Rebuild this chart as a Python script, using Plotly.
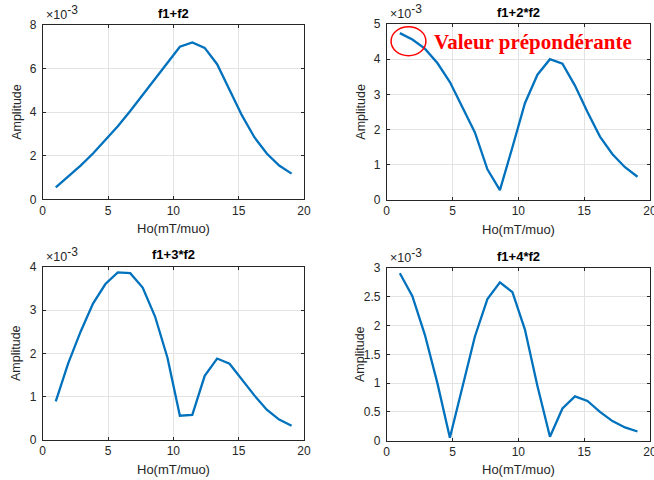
import plotly.graph_objects as go

# Field values Ho (mT/muo)
ho = [1.0, 1.95, 2.9, 3.85, 4.8, 5.75, 6.7, 7.65, 8.6, 9.55,
      10.5, 11.45, 12.4, 13.35, 14.3, 15.25, 16.2, 17.15, 18.1, 19.05]

# Amplitudes in units of 1e-3
amp_f1_f2 = [0.55, 1.05, 1.55, 2.1, 2.7, 3.35, 4.05, 4.8, 5.55, 6.3,
             7.0, 7.2, 6.95, 6.2, 5.0, 3.85, 2.85, 2.1, 1.55, 1.18]
amp_f1_2f2 = [4.74, 4.56, 4.3, 3.89, 3.35, 2.65, 1.92, 0.87, 0.28, 1.5,
              2.75, 3.56, 4.0, 3.87, 3.25, 2.5, 1.8, 1.3, 0.93, 0.66]
amp_f1_3f2 = [0.89, 1.77, 2.5, 3.15, 3.6, 3.87, 3.85, 3.52, 2.85, 1.9,
              0.56, 0.58, 1.48, 1.88, 1.76, 1.39, 1.03, 0.70, 0.47, 0.33]
amp_f1_4f2 = [2.91, 2.51, 1.84, 1.0, 0.05, 0.95, 1.81, 2.46, 2.75, 2.58,
              1.93, 0.95, 0.07, 0.56, 0.77, 0.69, 0.5, 0.34, 0.23, 0.16]

titles = ["f1+f2", "f1+2*f2", "f1+3*f2", "f1+4*f2"]
series = [amp_f1_f2, amp_f1_2f2, amp_f1_3f2, amp_f1_4f2]
y_ranges = [[0, 8], [0, 5], [0, 4], [0, 3]]
y_dticks = [2, 1, 1, 0.5]
x_ticks = [0, 5, 10, 15, 20]

W, H = 654, 480
# pixel boxes (left, right, top, bottom)
boxes = [(42.7, 304.0, 25.0, 199.3), (386.7, 650.0, 24.0, 200.0),
         (42.7, 304.0, 266.7, 440.0), (386.7, 650.0, 268.0, 440.7)]

fig = go.Figure()
FONT = "Liberation Sans, Arial, Helvetica, sans-serif"
axis_col = "#262626"
layout = dict(width=W, height=H, margin=dict(l=0, r=0, t=0, b=0, autoexpand=False),
              template="none",
              paper_bgcolor="white", plot_bgcolor="white", showlegend=False,
              font=dict(family=FONT, color=axis_col, size=11))
annotations = []
for i, (t, ys, yr, dt, box) in enumerate(zip(titles, series, y_ranges, y_dticks, boxes)):
    n = "" if i == 0 else str(i + 1)
    xa, ya = "x" + n, "y" + n
    fig.add_trace(go.Scatter(x=ho, y=ys, mode="lines", xaxis=xa, yaxis=ya,
                             line=dict(color="#0072BD", width=2.3)))
    l, r, tp, bt = box
    common = dict(showline=True, linecolor=axis_col, linewidth=0.8, mirror="allticks",
                  ticks="inside", ticklen=3, tickcolor=axis_col, tickwidth=0.8,
                  showgrid=True, gridcolor="#e3e3e3", gridwidth=0.8, zeroline=False,
                  automargin=False,
                  tickfont=dict(family=FONT, size=12, color=axis_col))
    layout["xaxis" + n] = dict(common, domain=[l / W, r / W], anchor=ya,
                               range=[0, 20], tickvals=x_ticks, ticklabeloverflow="allow")
    layout["yaxis" + n] = dict(common, domain=[1 - bt / H, 1 - tp / H], anchor=xa,
                               range=yr, dtick=dt, ticklabelstandoff=3)
    cx = (l + r) / 2
    annotations.append(dict(text="<b>%s</b>" % t, x=cx / W, y=1 - (tp - 12) / H,
                            xref="paper", yref="paper", showarrow=False,
                            xanchor="center", yanchor="middle",
                            font=dict(size=13, color="black", family=FONT)))
    annotations.append(dict(text="Ho(mT/muo)", x=cx / W, y=1 - (bt + 29) / H,
                            xref="paper", yref="paper", showarrow=False,
                            xanchor="center", yanchor="middle",
                            font=dict(size=13, color=axis_col, family=FONT)))
    annotations.append(dict(text="Amplitude", x=(l - 26) / W, y=1 - (tp + bt) / 2 / H,
                            xref="paper", yref="paper", showarrow=False, textangle=-90,
                            xanchor="center", yanchor="middle",
                            font=dict(size=12.5, color=axis_col, family=FONT)))
    annotations.append(dict(text="\u00d710<sup><span style='font-size:12px'>-3</span></sup>",
                            x=(l + 1) / W, y=1 - (tp - 1) / H,
                            xref="paper", yref="paper", showarrow=False,
                            xanchor="left", yanchor="bottom",
                            font=dict(size=12.5, color=axis_col, family=FONT)))

# annotation on second panel
annotations.append(dict(text="<b>Valeur prépondérante</b>", x=3.44, y=4.48, xref="x2", yref="y2",
                        xanchor="left", yanchor="middle", showarrow=False,
                        font=dict(size=21, color="red",
                                  family="Liberation Serif, Times New Roman, serif")))
layout["annotations"] = annotations
layout["shapes"] = [dict(type="circle", xref="x2", yref="y2", x0=0.33, x1=2.98, y0=4.10, y1=4.92,
                         line=dict(color="red", width=1.5))]
fig.update_layout(**layout)
fig.write_html("out.html", config={"displayModeBar": False},
               post_script="document.body.style.margin='0';")
